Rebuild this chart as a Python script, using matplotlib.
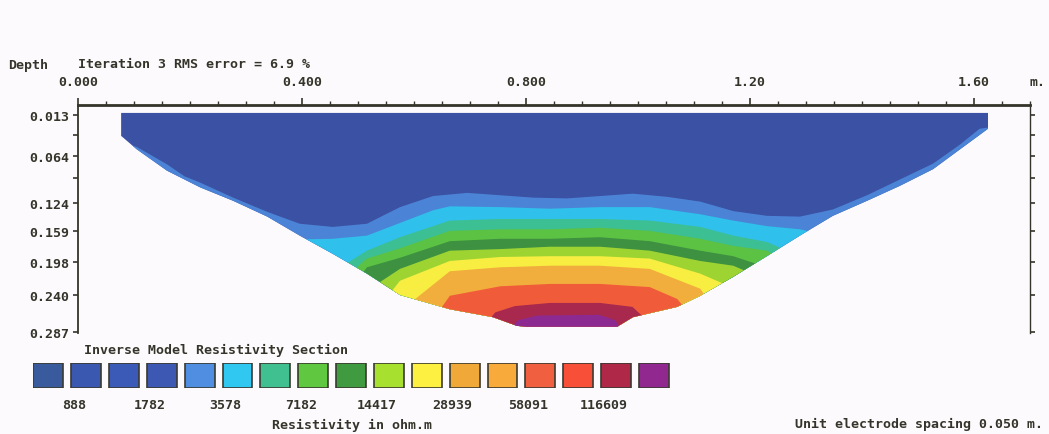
import matplotlib
matplotlib.use("Agg")
import matplotlib.pyplot as plt
from matplotlib.patches import Polygon
from matplotlib.ticker import MultipleLocator
import numpy as np

# ---------------- data ----------------
x_ticks = [0.0, 0.4, 0.8, 1.2, 1.6]
x_tick_labels = ["0.000", "0.400", "0.800", "1.20", "1.60"]
depth_ticks = [0.013, 0.038, 0.064, 0.092, 0.124, 0.159, 0.198, 0.240, 0.287]
depth_tick_labels = ["0.013", "", "0.064", "", "0.124", "0.159", "0.198", "0.240", "0.287"]

legend_values = ["888", "1782", "3578", "7182", "14417", "28939", "58091", "116609"]
legend_colors = ["#3a5a9e", "#3a58b0", "#3b5ab8", "#3c58b2", "#4f8ee0", "#30c8f0",
                 "#40c090", "#60c840", "#3f9a40", "#a8e030", "#fdf040", "#f0a838",
                 "#f8aa3a", "#f06040", "#f85038", "#b02848", "#902890"]

# outline of the model section (distance m, depth m)
outline_x = [0.077, 0.077, 0.105, 0.159, 0.218, 0.277, 0.338, 0.396, 0.455, 0.516,
             0.575, 0.664, 0.741, 0.784, 0.802, 0.963, 0.991, 1.070, 1.111, 1.170,
             1.230, 1.289, 1.348, 1.409, 1.468, 1.527, 1.575, 1.625, 1.625]
outline_d = [0.010, 0.039, 0.056, 0.083, 0.104, 0.121, 0.141, 0.165, 0.188, 0.213,
             0.240, 0.258, 0.268, 0.279, 0.280, 0.280, 0.268, 0.255, 0.241, 0.217,
             0.191, 0.165, 0.140, 0.121, 0.102, 0.081, 0.056, 0.030, 0.010]

# colour bands of the section, top to bottom
band_colors = ["#3b51a3", "#4b84d6", "#2fc0ec", "#3cbf92", "#5cc243", "#3d9140",
               "#9ed432", "#f8ee42", "#f2ae3c", "#f05c3a", "#a8284e", "#8c2a92"]

# contour boundaries between consecutive bands
b1_x = [0.085, 0.105, 0.159, 0.190, 0.218, 0.277, 0.338, 0.396, 0.455, 0.516, 0.575,
        0.634, 0.695, 0.754, 0.813, 0.873, 0.932, 0.991, 1.052, 1.111, 1.170, 1.230,
        1.289, 1.348, 1.409, 1.468, 1.527, 1.575, 1.610, 1.630]
b1_d = [0.048, 0.053, 0.075, 0.090, 0.098, 0.117, 0.135, 0.150, 0.154, 0.150, 0.129,
        0.115, 0.111, 0.114, 0.117, 0.118, 0.115, 0.112, 0.116, 0.122, 0.134, 0.140,
        0.141, 0.132, 0.114, 0.094, 0.074, 0.050, 0.030, 0.028]
b2_x = [0.380, 0.455, 0.516, 0.575, 0.634, 0.664, 0.754, 0.843, 0.932, 1.021, 1.111,
        1.170, 1.230, 1.289, 1.340]
b2_d = [0.170, 0.169, 0.165, 0.149, 0.133, 0.128, 0.129, 0.131, 0.129, 0.129, 0.138,
        0.146, 0.153, 0.157, 0.165]
b3_x = [0.480, 0.516, 0.575, 0.664, 0.754, 0.843, 0.932, 1.021, 1.111, 1.170, 1.230, 1.270]
b3_d = [0.200, 0.184, 0.167, 0.146, 0.144, 0.144, 0.144, 0.146, 0.154, 0.165, 0.173, 0.185]
b4_x = [0.490, 0.516, 0.575, 0.664, 0.754, 0.843, 0.932, 1.021, 1.111, 1.170, 1.230, 1.260]
b4_d = [0.210, 0.194, 0.181, 0.159, 0.157, 0.157, 0.155, 0.159, 0.169, 0.178, 0.184, 0.195]
b5_x = [0.500, 0.516, 0.575, 0.664, 0.754, 0.843, 0.932, 1.021, 1.111, 1.170, 1.230]
b5_d = [0.220, 0.205, 0.193, 0.172, 0.169, 0.169, 0.167, 0.172, 0.184, 0.191, 0.205]
b6_x = [0.530, 0.575, 0.664, 0.754, 0.843, 0.932, 1.021, 1.111, 1.170, 1.210]
b6_d = [0.228, 0.207, 0.184, 0.182, 0.179, 0.179, 0.184, 0.197, 0.203, 0.215]
b7_x = [0.555, 0.575, 0.664, 0.754, 0.843, 0.932, 1.021, 1.111, 1.160]
b7_d = [0.240, 0.222, 0.197, 0.192, 0.191, 0.191, 0.194, 0.213, 0.228]
b8_x = [0.590, 0.664, 0.754, 0.843, 0.932, 1.021, 1.111, 1.130]
b8_d = [0.252, 0.210, 0.205, 0.203, 0.203, 0.207, 0.232, 0.250]
b9_x = [0.640, 0.664, 0.754, 0.843, 0.932, 1.021, 1.070, 1.090]
b9_d = [0.265, 0.241, 0.229, 0.226, 0.226, 0.230, 0.245, 0.262]
b10_x = [0.730, 0.745, 0.780, 0.843, 0.932, 0.990, 1.010, 1.020]
b10_d = [0.275, 0.262, 0.254, 0.250, 0.250, 0.255, 0.268, 0.280]
b11_x = [0.770, 0.785, 0.820, 0.930, 0.960, 0.970]
b11_d = [0.285, 0.272, 0.266, 0.265, 0.272, 0.285]

boundaries = [(b1_x, b1_d), (b2_x, b2_d), (b3_x, b3_d), (b4_x, b4_d), (b5_x, b5_d),
              (b6_x, b6_d), (b7_x, b7_d), (b8_x, b8_d), (b9_x, b9_d), (b10_x, b10_d),
              (b11_x, b11_d)]

# ---------------- styling ----------------
BG = "#fcfafc"
INK = "#34342a"
plt.rcParams["font.family"] = ["DejaVu Sans Mono"]
plt.rcParams["font.weight"] = "bold"
plt.rcParams["font.size"] = 9.5
plt.rcParams["text.color"] = INK

W, H = 1049, 435
fig = plt.figure(figsize=(W / 100, H / 100), dpi=100, facecolor=BG)

ax = fig.add_axes([78 / W, 1 - 334 / H, 952 / W, 228 / H])
ax.set_facecolor(BG)
ax.set_xlim(0, 1.70)
ax.set_ylim(0.288, 0)

outline = Polygon(np.column_stack([outline_x, outline_d]), closed=True,
                  facecolor=band_colors[0], edgecolor="none", zorder=1)
ax.add_patch(outline)
for (bx, bd), col in zip(boundaries, band_colors[1:]):
    px = list(bx) + [bx[-1], bx[0]]
    pd = list(bd) + [0.30, 0.30]
    poly = ax.fill(px, pd, color=col, lw=0, zorder=2)[0]
    poly.set_clip_path(outline)

# axes decoration
ax.xaxis.tick_top()
ax.set_xticks(x_ticks, labels=x_tick_labels)
ax.xaxis.set_minor_locator(MultipleLocator(0.05))
ax.tick_params(axis="x", which="major", length=5, width=1.2, pad=7, colors=INK, labelsize=9.5)
ax.tick_params(axis="x", which="minor", length=3, width=1.0, colors=INK)
ax.set_yticks(depth_ticks, labels=depth_tick_labels)
ax.tick_params(axis="y", which="major", length=3.5, width=1.2, pad=3, colors=INK,
               left=True, right=True, labelright=False, labelsize=9.5)
for s in ("bottom",):
    ax.spines[s].set_visible(False)
ax.spines["top"].set_linewidth(2.0)
ax.spines["left"].set_linewidth(1.3)
ax.spines["right"].set_linewidth(1.0)
for s in ("top", "left", "right"):
    ax.spines[s].set_color(INK)

fig.text(8 / W, 1 - 65 / H, "Depth", va="center", ha="left")
fig.text(78 / W, 1 - 65 / H, "Iteration 3 RMS error = 6.9 %", va="center", ha="left")
fig.text(1030 / W, 1 - 83 / H, "m.", va="center", ha="left")

# colour scale
lax = fig.add_axes([33.3 / W, 1 - 389 / H, 643.5 / W, 25 / H])
lax.set_facecolor(BG)
lax.bar(np.arange(len(legend_colors)), [1] * len(legend_colors), width=0.79, align="edge",
        color=legend_colors, edgecolor="#3a3a30", linewidth=1.2)
lax.set_xlim(0, len(legend_colors))
lax.set_ylim(0, 1)
lax.set_yticks([])
lax.set_xticks(np.arange(len(legend_values)) * 2 + 1.08, labels=legend_values)
lax.tick_params(axis="x", length=0, pad=7, labelsize=9.5, colors=INK)
for s in lax.spines.values():
    s.set_visible(False)

fig.text(84 / W, 1 - 350 / H, "Inverse Model Resistivity Section", va="center", ha="left")
fig.text(272 / W, 1 - 425 / H, "Resistivity in ohm.m", va="center", ha="left")
fig.text(1043 / W, 1 - 424 / H, "Unit electrode spacing 0.050 m.", va="center", ha="right")

fig.savefig("out.png", dpi=100, facecolor=BG)
